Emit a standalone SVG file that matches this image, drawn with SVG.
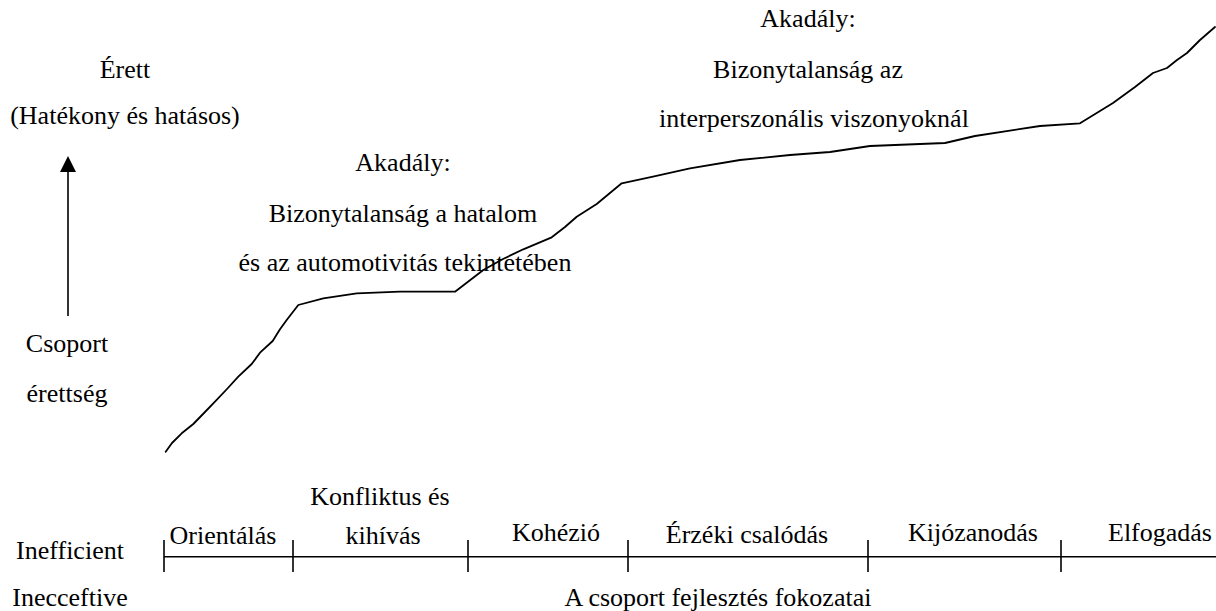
<svg xmlns="http://www.w3.org/2000/svg" width="1216" height="611" viewBox="0 0 1216 611">
  <style>
    .c { text-anchor: middle; }
    .line { fill: none; stroke: #000; stroke-width: 1.8; stroke-linejoin: round; stroke-linecap: round; }
    .axis { fill: none; stroke: #000; stroke-width: 1.6; }
  </style>
  <defs>
    <marker id="head" viewBox="0 0 16 16" refX="14" refY="8" markerWidth="16" markerHeight="16" markerUnits="userSpaceOnUse" orient="auto">
      <path d="M0,0 L16,8 L0,16 Z" fill="#000"/>
    </marker>
  </defs>
  <rect width="1216" height="611" fill="#fff"/>

  <g font-family="'Liberation Serif', 'Times New Roman', serif" font-size="26" fill="#000">
    <!-- maturity axis -->
    <g id="maturity-axis">
      <line x1="68" y1="316" x2="68" y2="158" class="axis" marker-end="url(#head)"/>
      <text class="c" x="125" y="78">Érett</text>
      <text class="c" x="125" y="124">(Hatékony és hatásos)</text>
      <text class="c" x="67" y="352">Csoport</text>
      <text class="c" x="67" y="402">érettség</text>
    </g>

    <!-- development curve -->
    <g id="connectors">
      <path class="line" d="M165.7,451.7 L172,443 L181.7,433.3 L193.3,424 L204,413 L215,401.7 L227,389 L238.3,376.7 L251.7,364 L260,352.7 L272.7,341 L280,329.3 L286.7,320 L298.3,305 L323.3,298.3 L356.7,293.3 L400,291.7 L455,291.7 L483.3,270 L503,259 L523.3,249.3 L551.7,237.3 L565,227 L576.7,216.7 L596.7,204 L621.7,183.3 L653,176.7 L690,168.3 L740,160 L790,155 L830,152 L870,146 L945,143 L975,136 L1040,126 L1080,123.3 L1113,103 L1135,87 L1153,73 L1167,68 L1177,60 L1187,53 L1200,40 L1215,27"/>
    </g>

    <!-- obstacle notes -->
    <g id="obstacle-1">
      <text class="c" x="403" y="171">Akadály:</text>
      <text class="c" x="403" y="222">Bizonytalanság a hatalom</text>
      <text class="c" x="405" y="271">és az automotivitás tekintetében</text>
    </g>
    <g id="obstacle-2">
      <text class="c" x="808" y="27">Akadály:</text>
      <text class="c" x="808" y="78">Bizonytalanság az</text>
      <text class="c" x="814" y="127">interperszonális viszonyoknál</text>
    </g>

    <!-- stage axis -->
    <g id="stage-axis">
      <line x1="164" y1="556.7" x2="1216" y2="556.7" class="axis"/>
      <line x1="164" y1="540" x2="164" y2="572" class="axis"/>
      <line x1="293" y1="540" x2="293" y2="572" class="axis"/>
      <line x1="468" y1="540" x2="468" y2="572" class="axis"/>
      <line x1="628" y1="540" x2="628" y2="572" class="axis"/>
      <line x1="868" y1="540" x2="868" y2="572" class="axis"/>
      <line x1="1061" y1="540" x2="1061" y2="572" class="axis"/>
    </g>
    <g id="stage-orientalas"><text class="c" x="223" y="544">Orientálás</text></g>
    <g id="stage-konfliktus">
      <text class="c" x="380" y="505">Konfliktus és</text>
      <text class="c" x="383" y="544">kihívás</text>
    </g>
    <g id="stage-kohezio"><text class="c" x="556" y="541">Kohézió</text></g>
    <g id="stage-erzeki"><text class="c" x="747" y="543">Érzéki csalódás</text></g>
    <g id="stage-kijozanodas"><text class="c" x="973" y="541">Kijózanodás</text></g>
    <g id="stage-elfogadas"><text class="c" x="1160" y="541">Elfogadás</text></g>

    <g id="axis-labels">
      <text class="c" x="70" y="559">Inefficient</text>
      <text class="c" x="70" y="606">Inecceftive</text>
      <text class="c" x="718" y="606">A csoport fejlesztés fokozatai</text>
    </g>
  </g>
</svg>
